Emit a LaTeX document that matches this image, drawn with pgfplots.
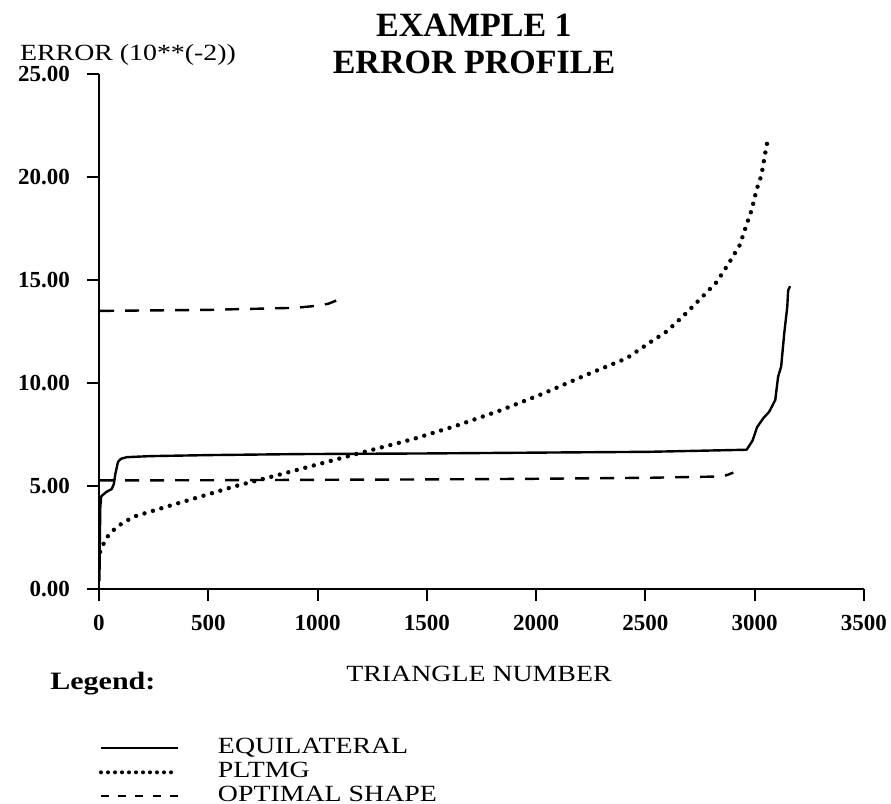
\documentclass[border=0pt]{standalone}
\usepackage{fontspec}
\setmainfont{Liberation Serif}
\newfontfamily\wide{Liberation Serif}[FakeStretch=1.2]
\usepackage{pgfplots}
\pgfplotsset{compat=1.18}
\begin{document}
\begin{tikzpicture}
\path[use as bounding box] (-49.5pt,-107.5pt) rectangle (396pt,294.5pt);
\begin{axis}[
  scale only axis, width=382.5pt, height=257.5pt,
  xmin=0, xmax=3500, ymin=0, ymax=25,
  axis x line*=bottom, axis y line*=left,
  axis line style={line width=1.3pt, -},
  xtick={0,500,...,3500}, ytick={0,5,...,25},
  tick align=outside, major tick length=6pt,
  every tick/.style={line width=1pt, black},
  tick label style={font=\bfseries\fontsize{11.5}{13}\selectfont},
  /pgf/number format/assume math mode=true,
  xticklabel style={yshift=-3.5pt, /pgf/number format/.cd, set thousands separator={}, fixed},
  yticklabel style={xshift=-5pt, /pgf/number format/.cd, fixed, fixed zerofill, precision=2},
  clip=false,
  legend style={draw=none, fill=none, at={(rel axis cs:0,-0.289)}, anchor=north west,
    inner sep=0pt, outer sep=0pt, row sep=1.5pt, column sep=19pt,
    font=\wide\fontsize{11.6}{12}\selectfont,
    nodes={inner sep=0pt, text height=8pt, text depth=2.5pt}},
  legend cell align=left,
  legend image code/.code={\draw[#1] (0pt,0pt) -- (38.5pt,0pt);},
]
% EQUILATERAL
\addplot[black, line width=1.2pt, line join=round, forget plot] coordinates {
(2,0.4) (4,2.5) (6,4.0) (10,4.5) (35,4.72) (58,4.85) (68,5.1) (75,5.6) (87,6.17)
(100,6.32) (127,6.4) (234,6.45) (500,6.5) (921,6.55) (1500,6.58) (2000,6.62)
(2520,6.66) (2963,6.76) (2990,7.2) (3011,7.86) (3040,8.3) (3066,8.6) (3094,9.17)
(3107,10.3) (3121,10.8) (3135,12.4) (3149,13.7) (3153,14.5) (3162,14.7)};
% PLTMG
\addplot[black, line width=2.2pt, line cap=round, dash pattern=on 0pt off 4.4pt, forget plot] coordinates {
(5,1.8) (12,2.0) (35,2.5) (81,3.02) (156,3.5) (310,4.0) (463,4.48) (616,4.97)
(843,5.6) (1194,6.6) (1438,7.28) (1636,7.93) (1834,8.66) (2033,9.49) (2231,10.4)
(2414,11.2) (2525,12.0) (2597,12.5) (2673,13.25) (2749,14.06) (2826,14.9)
(2879,15.77) (2932,16.7) (2963,17.7) (2986,18.4) (3009,19.4) (3031,20.1)
(3047,21.1) (3054,21.5) (3060,21.8)};
% OPTIMAL SHAPE (upper segment)
\addplot[black, line width=1.2pt, dash pattern=on 7pt off 5.5pt, forget plot] coordinates {
(5,13.5) (500,13.55) (900,13.65) (1000,13.75) (1050,13.85) (1085,14.0)};
% OPTIMAL SHAPE (lower segment)
\addplot[black, line width=1.2pt, dash pattern=on 7pt off 5.5pt, forget plot] coordinates {
(5,5.27) (500,5.28) (1000,5.3) (1500,5.32) (2000,5.35) (2520,5.4) (2826,5.46) (2870,5.52) (2902,5.65)};
\addlegendimage{black, line width=1pt}
\addlegendentry{EQUILATERAL}
\addlegendimage{black, line width=2pt, line cap=round, dash pattern=on 0pt off 3.5pt}
\addlegendentry{PLTMG}
\addlegendimage{black, line width=1.1pt, dash pattern=on 4pt off 4.6pt}
\addlegendentry{OPTIMAL SHAPE}
\end{axis}
\node[align=center, font=\bfseries\fontsize{17}{18.5}\selectfont] at (187.5pt,272.5pt) {EXAMPLE 1\\ERROR PROFILE};
\node[font=\wide\fontsize{11.6}{13}\selectfont] at (14.5pt,267pt) {ERROR (10**(-2))};
\node[font=\wide\fontsize{11.6}{13}\selectfont] at (190pt,-42.5pt) {TRIANGLE NUMBER};
\node[anchor=west, inner sep=0pt, font=\wide\bfseries\fontsize{12.5}{14}\selectfont] at (-24.5pt,-47.5pt) {Legend:};
\end{tikzpicture}
\end{document}
